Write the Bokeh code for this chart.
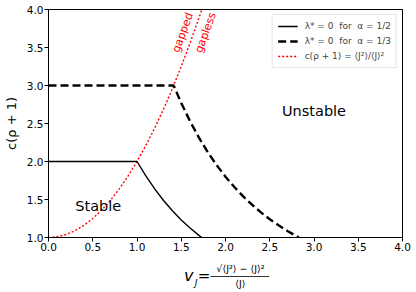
from bokeh.plotting import figure
from bokeh.layouts import column
from bokeh.models import (FixedTicker, PrintfTickFormatter, Label, Legend, LegendItem, Range1d)
from bokeh.embed import file_html
from bokeh.resources import INLINE

FONT = "DejaVu Sans"

# Red dotted boundary c(rho+1) = <J^2>/<J>^2
red_v = [0.0, 0.1, 0.2, 0.3, 0.4, 0.5, 0.6, 0.7, 0.8, 0.9, 1.0, 1.1, 1.2, 1.3, 1.4, 1.5, 1.6, 1.7, 1.75]
red_c = [1.0, 1.01, 1.04, 1.09, 1.16, 1.25, 1.36, 1.49, 1.64, 1.81, 2.0, 2.21, 2.44, 2.69, 2.96, 3.25, 3.56, 3.89, 4.06]

# lambda* = 0 for alpha = 1/2 (solid)
a2_v = [0.0, 1.0, 1.1, 1.2, 1.3, 1.4, 1.5, 1.6, 1.7, 1.732]
a2_c = [2.0, 2.0, 1.81, 1.639, 1.487, 1.351, 1.231, 1.124, 1.028, 1.0]

# lambda* = 0 for alpha = 1/3 (dashed)
a3_v = [0.0, 1.414, 1.5, 1.6, 1.7, 1.8, 1.9, 2.0, 2.1, 2.2, 2.3, 2.4, 2.5, 2.6, 2.7, 2.8, 2.828]
a3_c = [3.0, 3.0, 2.769, 2.528, 2.314, 2.123, 1.952, 1.8, 1.664, 1.541, 1.431, 1.331, 1.241, 1.16, 1.086, 1.018, 1.0]

x_ticks = [0.0, 0.5, 1.0, 1.5, 2.0, 2.5, 3.0, 3.5, 4.0]
y_ticks = [1.0, 1.5, 2.0, 2.5, 3.0, 3.5, 4.0]

p = figure(width=416, height=255, output_backend="svg", toolbar_location=None,
           x_range=Range1d(0, 4), y_range=Range1d(1, 4),
           min_border_left=46, min_border_right=14, min_border_top=9, min_border_bottom=18)
p.grid.visible = False
p.outline_line_color = "black"
p.outline_line_alpha = 1
p.outline_line_width = 1
p.background_fill_color = "white"
p.border_fill_color = "white"

for ax, ticks in ((p.xaxis, x_ticks), (p.yaxis, y_ticks)):
    ax.ticker = FixedTicker(ticks=ticks)
    ax.formatter = PrintfTickFormatter(format="%.1f")
    ax.major_label_text_font = FONT
    ax.major_label_text_font_size = "10.5px"
    ax.major_label_text_color = "black"
    ax.major_tick_out = 4
    ax.major_tick_in = 0
    ax.minor_tick_out = 0
    ax.minor_tick_in = 0
    ax.axis_line_color = "black"
    ax.major_tick_line_color = "black"
    ax.major_label_standoff = 1

p.yaxis.axis_label = "c(ρ + 1)"
p.yaxis.axis_label_text_font = FONT
p.yaxis.axis_label_text_font_size = "13px"
p.yaxis.axis_label_text_font_style = "normal"
p.yaxis.axis_label_text_color = "black"
p.yaxis.axis_label_standoff = 5

r_red = p.line(red_v, red_c, line_color="red", line_width=1.4, line_dash="2 2")
r_a2 = p.line(a2_v, a2_c, line_color="black", line_width=1.4)
r_a3 = p.line(a3_v, a3_c, line_color="black", line_width=2.4, line_dash="8 4")

legend = Legend(items=[
    LegendItem(label="λ* = 0  for  α = 1/2", renderers=[r_a2]),
    LegendItem(label="λ* = 0  for  α = 1/3", renderers=[r_a3]),
    LegendItem(label="c(ρ + 1) = ⟨J²⟩/⟨J⟩²", renderers=[r_red]),
], location="top_right")
legend.label_text_font = FONT
legend.label_text_font_size = "9px"
legend.glyph_width = 20
legend.glyph_height = 12
legend.label_height = 12
legend.spacing = 3
legend.padding = 5
legend.margin = 5
legend.label_standoff = 7
legend.border_line_color = "#cccccc"
legend.background_fill_alpha = 0.9
p.add_layout(legend)

def lab(fig, x, y, text, size, color="black", angle=0.0, style="normal"):
    fig.add_layout(Label(x=x, y=y, text=text, text_font=FONT, text_font_size=size,
                         text_color=color, angle=angle, text_align="center",
                         text_baseline="middle", text_font_style=style))

lab(p, 0.562, 1.421, "Stable", "14.5px")
lab(p, 3.0, 2.658, "Unstable", "14.5px")
lab(p, 1.517, 3.697, "gapped", "11px", color="red", angle=1.22)
lab(p, 1.775, 3.697, "gapless", "11px", color="red", angle=1.22)

# x-axis label drawn in a strip below the plot; its frame spans the same
# horizontal pixels as the main frame, coordinates = page pixels
p2 = figure(width=416, height=37, output_backend="svg", toolbar_location=None,
            x_range=Range1d(46, 402), y_range=Range1d(292, 255),
            x_axis_location=None, y_axis_location=None,
            min_border_left=46, min_border_right=14, min_border_top=0, min_border_bottom=0)
p2.grid.visible = False
p2.outline_line_color = None
p2.background_fill_color = "white"
p2.border_fill_color = "white"

lab(p2, 187, 275, "v", "16px", style="italic")
lab(p2, 194.5, 282, "J", "9px", style="italic")
lab(p2, 202.5, 275, "=", "15px")
lab(p2, 239, 268, "√⟨J²⟩ − ⟨J⟩²", "9.5px")
lab(p2, 239, 283, "⟨J⟩", "9.5px")
p2.line([209, 268], [276, 276], line_color="black", line_width=0.8)

open("out.html", "w").write(file_html(column(p, p2, spacing=0), INLINE))
